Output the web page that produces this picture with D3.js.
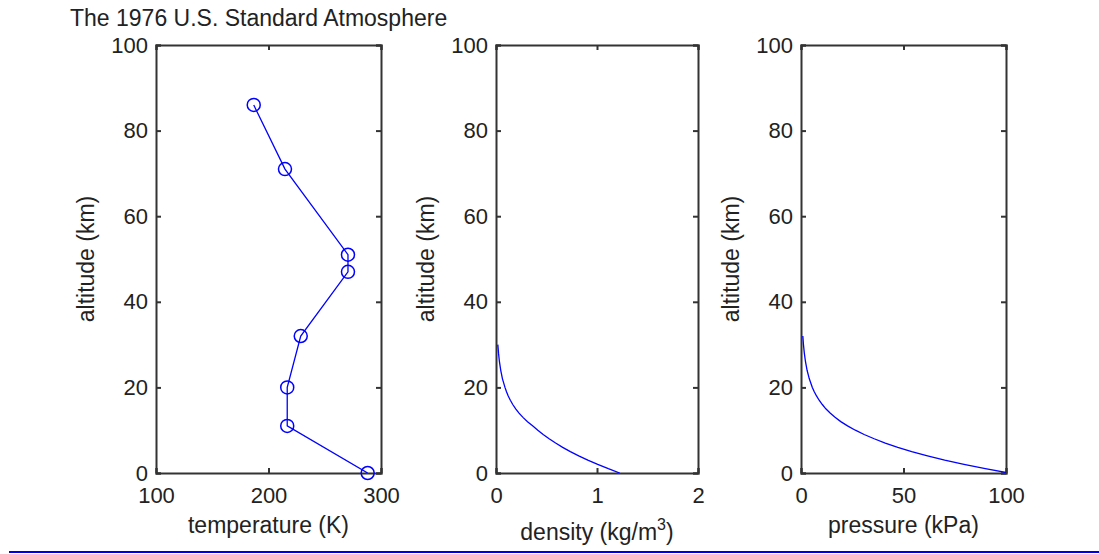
<!DOCTYPE html>
<html>
<head>
<meta charset="utf-8">
<script src="https://cdn.jsdelivr.net/npm/d3@7"></script>
<style>
  body { margin: 0; background: #fff; }
  text { font-family: "Liberation Sans", Arial, sans-serif; fill: #222; }
</style>
</head>
<body>
<div id="chart"></div>
<script>
// temperature profile (layer boundaries)
const tempAlt = [0, 11, 20, 32, 47, 51, 71, 86];
const tempK = [288.15, 216.65, 216.65, 228.65, 270.65, 270.65, 214.65, 186.87];

// density profile
const densAlt = [0, 1, 2, 3, 4, 5, 6, 7, 8, 9, 10, 11, 12, 13, 14, 15, 16, 17, 18, 19, 20, 22, 24, 26, 28, 30];
const densVal = [1.225, 1.112, 1.007, 0.909, 0.819, 0.736, 0.660, 0.590, 0.526, 0.467, 0.414, 0.365, 0.312, 0.267, 0.228, 0.195, 0.166, 0.142, 0.121, 0.104, 0.089, 0.064, 0.047, 0.034, 0.025, 0.018];

// pressure profile (kPa)
const presAlt = [0, 1, 2, 3, 4, 5, 6, 7, 8, 9, 10, 11, 12, 13, 14, 15, 16, 17, 18, 19, 20, 22, 24, 26, 28, 30, 32];
const presVal = [101.3, 89.9, 79.5, 70.1, 61.7, 54.0, 47.2, 41.1, 35.7, 30.8, 26.5, 22.7, 19.4, 16.6, 14.2, 12.1, 10.4, 8.85, 7.57, 6.47, 5.53, 4.05, 2.97, 2.19, 1.62, 1.20, 0.89];

const altTicks = [0, 20, 40, 60, 80, 100];
const tempTicks = [100, 200, 300];
const densTicks = [0, 1, 2];
const presTicks = [0, 50, 100];

const width = 1099, height = 554;
const plotTop = 45, plotBottom = 473;

const svg = d3.select("#chart").append("svg")
    .attr("width", width)
    .attr("height", height);

svg.append("text")
    .attr("x", 70)
    .attr("y", 26)
    .style("font-size", "23px")
    .text("The 1976 U.S. Standard Atmosphere");

const panels = [
    {left: 156, right: 381, xDomain: [100, 300], ticks: tempTicks, alt: tempAlt, vals: tempK, markers: true, label: "temperature (K)", labelY: 533},
    {left: 496, right: 698, xDomain: [0, 2], ticks: densTicks, alt: densAlt, vals: densVal, markers: false, label: "density", labelY: 540},
    {left: 801, right: 1006, xDomain: [0, 100], ticks: presTicks, alt: presAlt, vals: presVal, markers: false, label: "pressure (kPa)", labelY: 533}
];

panels.forEach((p, i) => {
    const x = d3.scaleLinear().domain(p.xDomain).range([p.left, p.right]);
    const y = d3.scaleLinear().domain([0, 100]).range([plotBottom, plotTop]);
    const g = svg.append("g");

    g.append("clipPath").attr("id", "clip" + i)
        .append("rect")
        .attr("x", p.left).attr("y", plotTop)
        .attr("width", p.right - p.left).attr("height", plotBottom - plotTop);

    // box with inward ticks on all sides
    const axes = [
        [d3.axisLeft(y).tickValues(altTicks).tickSize(-5).tickPadding(8), `translate(${p.left},0)`],
        [d3.axisRight(y).tickValues(altTicks).tickSize(-5).tickFormat(""), `translate(${p.right},0)`],
        [d3.axisBottom(x).tickValues(p.ticks).tickSize(-5).tickPadding(14).tickFormat(d3.format("d")), `translate(0,${plotBottom})`],
        [d3.axisTop(x).tickValues(p.ticks).tickSize(-5).tickFormat(""), `translate(0,${plotTop})`]
    ];
    axes.forEach(([ax, tr]) => {
        const a = g.append("g").attr("transform", tr).call(ax);
        a.select(".domain").attr("stroke", "#333").attr("stroke-width", 2);
        a.selectAll(".tick line").attr("stroke", "#333").attr("stroke-width", 2);
        a.selectAll(".tick text")
            .style("font-size", "22px")
            .style("font-family", "'Liberation Sans', Arial, sans-serif")
            .attr("fill", "#222");
    });

    const line = d3.line()
        .x((d, j) => x(p.vals[j]))
        .y(d => y(d));

    g.append("path")
        .datum(p.alt)
        .attr("clip-path", `url(#clip${i})`)
        .attr("d", line)
        .attr("fill", "none")
        .attr("stroke", "#0000ff")
        .attr("stroke-width", 1.3);

    if (p.markers) {
        g.selectAll("circle")
            .data(p.alt)
            .enter()
            .append("circle")
            .attr("cx", (d, j) => x(p.vals[j]))
            .attr("cy", d => y(d))
            .attr("r", 6.5)
            .attr("fill", "none")
            .attr("stroke", "#0000ff")
            .attr("stroke-width", 1.5);
    }

    // y label
    g.append("text")
        .attr("transform", `translate(${p.left - 62},${(plotTop + plotBottom) / 2}) rotate(-90)`)
        .attr("text-anchor", "middle")
        .style("font-size", "23px")
        .text("altitude (km)");

    // x label
    const xl = g.append("text")
        .attr("x", (p.left + p.right) / 2)
        .attr("y", p.labelY)
        .attr("text-anchor", "middle")
        .style("font-size", "23px")
        .text(p.label);
    if (p.label === "density") {
        xl.append("tspan").text(" (kg/m");
        xl.append("tspan").attr("dy", -10).style("font-size", "16px").text("3");
        xl.append("tspan").attr("dy", 10).text(")");
    }
});

// bottom rule
svg.append("line")
    .attr("x1", 9).attr("x2", width)
    .attr("y1", 552).attr("y2", 552)
    .attr("stroke", "#0000e0")
    .attr("stroke-width", 2);
</script>
</body>
</html>
